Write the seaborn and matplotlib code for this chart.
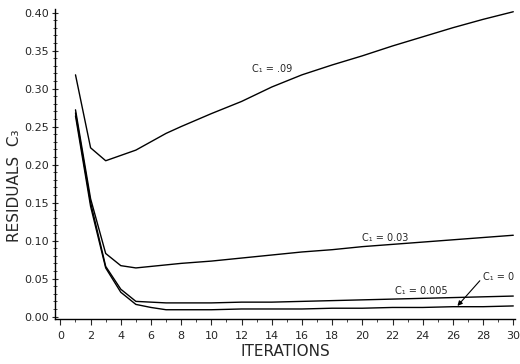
import numpy as np
import pandas as pd
import matplotlib
matplotlib.use("Agg")
import matplotlib.pyplot as plt
from matplotlib.ticker import MultipleLocator, FormatStrFormatter
import seaborn as sns

iterations = [1, 2, 3, 4, 5, 6, 7, 8, 10, 12, 14, 16, 18, 20, 22, 24, 26, 28, 30]
c1_09 = [0.318, 0.222, 0.205, 0.212, 0.219, 0.230, 0.241, 0.250, 0.267, 0.283,
         0.302, 0.318, 0.331, 0.343, 0.356, 0.368, 0.380, 0.391, 0.401]
c1_03 = [0.272, 0.155, 0.083, 0.067, 0.064, 0.066, 0.068, 0.070, 0.073, 0.077,
         0.081, 0.085, 0.088, 0.092, 0.095, 0.098, 0.101, 0.104, 0.107]
c1_005 = [0.268, 0.150, 0.066, 0.036, 0.020, 0.019, 0.018, 0.018, 0.018, 0.019,
          0.019, 0.020, 0.021, 0.022, 0.023, 0.024, 0.025, 0.026, 0.027]
c1_0 = [0.264, 0.145, 0.064, 0.032, 0.016, 0.012, 0.009, 0.009, 0.009, 0.010,
        0.010, 0.010, 0.011, 0.011, 0.012, 0.012, 0.013, 0.013, 0.014]

series = {"C₁ = .09": c1_09, "C₁ = 0.03": c1_03, "C₁ = 0.005": c1_005, "C₁ = 0": c1_0}

df = pd.concat(
    [pd.DataFrame({"iteration": iterations, "residual": vals, "c1": name})
     for name, vals in series.items()]
)

sns.set_style("ticks")
plt.rcParams["font.family"] = ["DejaVu Sans"]

fig = plt.figure(figsize=(5.2, 3.64), dpi=100)
ax = fig.add_axes([0.106, 0.124, 0.884, 0.85])

sns.lineplot(
    data=df, x="iteration", y="residual", hue="c1",
    palette={k: "black" for k in series}, legend=False, linewidth=1.0, ax=ax,
)

ax.set_xlim(-0.35, 30.1)
ax.set_ylim(-0.003, 0.404)
ax.xaxis.set_major_locator(MultipleLocator(2))
ax.xaxis.set_minor_locator(MultipleLocator(1))
ax.yaxis.set_major_locator(MultipleLocator(0.05))
ax.yaxis.set_minor_locator(MultipleLocator(0.01))
ax.yaxis.set_major_formatter(FormatStrFormatter("%.2f"))
ax.tick_params(axis="y", which="major", direction="inout", length=5, width=0.8, labelsize=8, pad=2)
ax.tick_params(axis="y", which="minor", direction="inout", length=3, width=0.6)
ax.tick_params(axis="x", which="major", direction="out", length=4, width=0.8, labelsize=8, pad=5)
ax.tick_params(axis="x", which="minor", direction="out", length=2, width=0.6)
sns.despine(ax=ax)
for s in ["left", "bottom"]:
    ax.spines[s].set_linewidth(1.0)
    ax.spines[s].set_color("black")

ax.set_xlabel("ITERATIONS", fontsize=11, labelpad=2)
ax.set_ylabel("RESIDUALS  C₃", fontsize=11, labelpad=4)
ax.yaxis.set_label_coords(-0.072, 0.43)

ax.text(14.0, 0.326, "C₁ = .09", fontsize=7, ha="center", va="center")
ax.text(21.5, 0.104, "C₁ = 0.03", fontsize=7, ha="center", va="center")
ax.text(23.9, 0.033, "C₁ = 0.005", fontsize=7, ha="center", va="center")
ax.annotate(
    "C₁ = 0", xy=(26.3, 0.014), xytext=(28.0, 0.052), fontsize=7,
    ha="left", va="center",
    arrowprops=dict(arrowstyle="-|>", color="black", lw=0.8,
                    shrinkA=0, shrinkB=0, relpos=(0, 0.5)),
)

fig.savefig("out.png", dpi=100)
